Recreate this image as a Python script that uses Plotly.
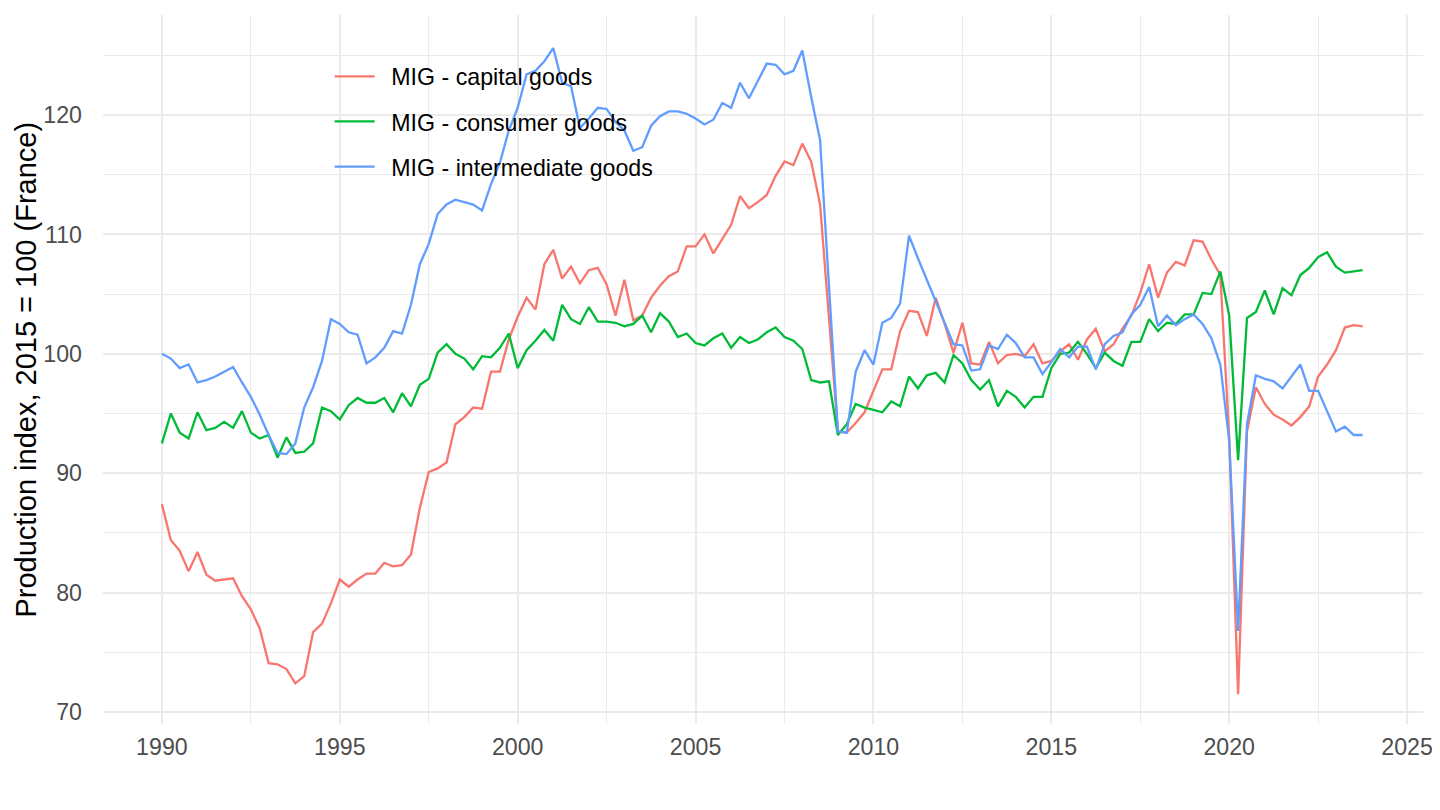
import pandas as pd
import plotly.graph_objects as go

# Quarterly production indices, 2015 = 100 (France), 1990Q1 - 2023Q4
quarters = pd.period_range("1990Q1", "2023Q4", freq="Q")

capital_goods = [
    87.4, 84.4, 83.5, 81.8, 83.4, 81.5, 81.0, 81.1, 81.2, 79.7, 78.6, 77.0,
    74.1, 74.0, 73.6, 72.4, 73.0, 76.7, 77.4, 79.1, 81.1, 80.5, 81.1, 81.6,
    81.6, 82.5, 82.2, 82.3, 83.2, 87.1, 90.1, 90.4, 90.9, 94.1, 94.7, 95.5,
    95.4, 98.5, 98.5, 101.2, 103.1, 104.7, 103.7, 107.5, 108.7, 106.3, 107.3, 105.9,
    107.0, 107.2, 105.8, 103.2, 106.2, 102.8, 103.2, 104.7, 105.7, 106.5, 106.9, 109.0,
    109.0, 110.0, 108.4, 109.6, 110.8, 113.2, 112.2, 112.7, 113.3, 114.9, 116.1, 115.8,
    117.6, 116.1, 112.5, 103.0, 93.5, 93.4, 94.2, 95.1, 96.9, 98.7, 98.7, 101.9,
    103.6, 103.5, 101.5, 104.7, 102.5, 100.1, 102.6, 99.2, 99.1, 101.0, 99.2, 99.9,
    100.0, 99.8, 100.8, 99.2, 99.4, 100.2, 100.8, 99.5, 101.2, 102.1, 100.2, 100.8,
    102.1, 103.2, 105.1, 107.5, 104.7, 106.8, 107.7, 107.4, 109.5, 109.4, 107.9, 106.6,
    93.0, 71.5, 93.5, 97.2, 95.8, 94.9, 94.5, 94.0, 94.7, 95.6, 98.1, 99.1,
    100.3, 102.2, 102.4, 102.3,
]

consumer_goods = [
    92.5, 95.0, 93.4, 92.9, 95.1, 93.6, 93.8, 94.3, 93.8, 95.2, 93.4, 92.9,
    93.2, 91.3, 93.0, 91.7, 91.8, 92.5, 95.5, 95.2, 94.5, 95.7, 96.3, 95.9,
    95.9, 96.3, 95.1, 96.7, 95.6, 97.4, 97.9, 100.1, 100.8, 100.0, 99.6, 98.7,
    99.8, 99.7, 100.5, 101.7, 98.8, 100.3, 101.1, 102.0, 101.1, 104.1, 102.9, 102.5,
    103.9, 102.7, 102.7, 102.6, 102.3, 102.5, 103.2, 101.8, 103.4, 102.7, 101.4, 101.7,
    100.9, 100.7, 101.3, 101.7, 100.5, 101.4, 100.9, 101.2, 101.8, 102.2, 101.4, 101.1,
    100.4, 97.8, 97.6, 97.7, 93.2, 94.1, 95.8, 95.5, 95.3, 95.1, 96.0, 95.6,
    98.1, 97.1, 98.2, 98.4, 97.6, 99.9, 99.2, 97.8, 97.0, 97.8, 95.6, 96.9,
    96.4, 95.5, 96.4, 96.4, 98.8, 100.0, 100.1, 101.0, 100.0, 98.8, 100.1, 99.4,
    99.0, 101.0, 101.0, 102.9, 101.9, 102.6, 102.5, 103.3, 103.3, 105.1, 105.0, 106.9,
    103.2, 91.1, 103.0, 103.5, 105.3, 103.3, 105.5, 104.9, 106.6, 107.2, 108.1, 108.5,
    107.3, 106.8, 106.9, 107.0,
]

intermediate_goods = [
    100.0, 99.6, 98.8, 99.1, 97.6, 97.8, 98.1, 98.5, 98.9, 97.6, 96.4, 94.9,
    93.2, 91.7, 91.6, 92.5, 95.5, 97.2, 99.4, 102.9, 102.5, 101.8, 101.6, 99.2,
    99.7, 100.5, 101.9, 101.7, 104.1, 107.5, 109.2, 111.7, 112.5, 112.9, 112.7, 112.5,
    112.0, 114.2, 116.0, 118.7, 120.6, 123.4, 123.7, 124.5, 125.6, 122.7, 122.4, 118.9,
    119.7, 120.6, 120.5, 119.4, 118.7, 117.0, 117.3, 119.1, 119.9, 120.3, 120.3, 120.1,
    119.7, 119.2, 119.6, 121.0, 120.6, 122.7, 121.4, 122.8, 124.3, 124.2, 123.4, 123.7,
    125.4, 121.5, 117.9, 105.7, 93.5, 93.4, 98.5, 100.3, 99.1, 102.6, 103.0, 104.2,
    109.9, 108.0, 106.2, 104.4, 102.6, 100.8, 100.7, 98.6, 98.7, 100.7, 100.4, 101.6,
    100.9, 99.7, 99.7, 98.3, 99.3, 100.4, 99.7, 100.6, 100.6, 98.7, 100.8, 101.5,
    101.8, 103.3, 104.1, 105.6, 102.3, 103.2, 102.4, 102.9, 103.3, 102.5, 101.3, 99.1,
    92.7, 76.8, 94.1, 98.2, 97.9, 97.7, 97.1, 98.1, 99.1, 96.9, 96.9, 95.2,
    93.5, 93.9, 93.2, 93.2,
]

series_names = ["MIG - capital goods", "MIG - consumer goods", "MIG - intermediate goods"]
series_colors = ["#F8766D", "#00BA38", "#619CFF"]

x_years = [q.year + (q.quarter - 1) / 4 for q in quarters]

fig = go.Figure()
for name, values, color in zip(series_names,
                               [capital_goods, consumer_goods, intermediate_goods],
                               series_colors):
    fig.add_trace(go.Scatter(
        x=x_years, y=values, mode="lines",
        name="\u2002" + name,  # small gap between key line and label, as in ggplot
        legendgroup=name,
        line=dict(color=color, width=2.3),
    ))

grid = "#EBEBEB"
fig.update_layout(
    # page body adds an 8px margin on the left/top
    width=1432, height=794,
    margin=dict(l=95, r=15, t=7, b=78),
    paper_bgcolor="white", plot_bgcolor="white",
    font=dict(family="Liberation Sans, Arial, sans-serif", color="#4D4D4D"),
    showlegend=True,
    legend=dict(
        x=0.1717, y=0.944, xanchor="left", yanchor="top",
        bgcolor="rgba(0,0,0,0)", font=dict(size=23.2, color="black"),
        tracegroupgap=12, itemwidth=40,
    ),
    xaxis=dict(
        range=[1988.344, 2025.447], tickmode="linear", tick0=1990, dtick=5,
        showgrid=True, gridcolor=grid, gridwidth=2.4, zeroline=False, showline=False,
        ticks="", tickfont=dict(size=23.2, color="#4D4D4D"), ticklabelstandoff=7,
        ticklabeloverflow="allow",
        minor=dict(tick0=1990, dtick=2.5, showgrid=True, gridcolor=grid, gridwidth=1.3),
    ),
    yaxis=dict(
        range=[69.0, 128.37], tickmode="linear", tick0=70, dtick=10,
        showgrid=True, gridcolor=grid, gridwidth=2.4, zeroline=False, showline=False,
        ticks="", tickfont=dict(size=23.2, color="#4D4D4D"), ticklabelstandoff=20,
        minor=dict(tick0=70, dtick=5, showgrid=True, gridcolor=grid, gridwidth=1.3),
    ),
)

fig.add_annotation(
    text="Production index, 2015 = 100 (France)",
    xref="paper", yref="paper", x=-0.059, y=0.5,
    xanchor="center", yanchor="middle", textangle=-90, showarrow=False,
    font=dict(size=29, color="black"),
)

fig.write_html("out.html")
